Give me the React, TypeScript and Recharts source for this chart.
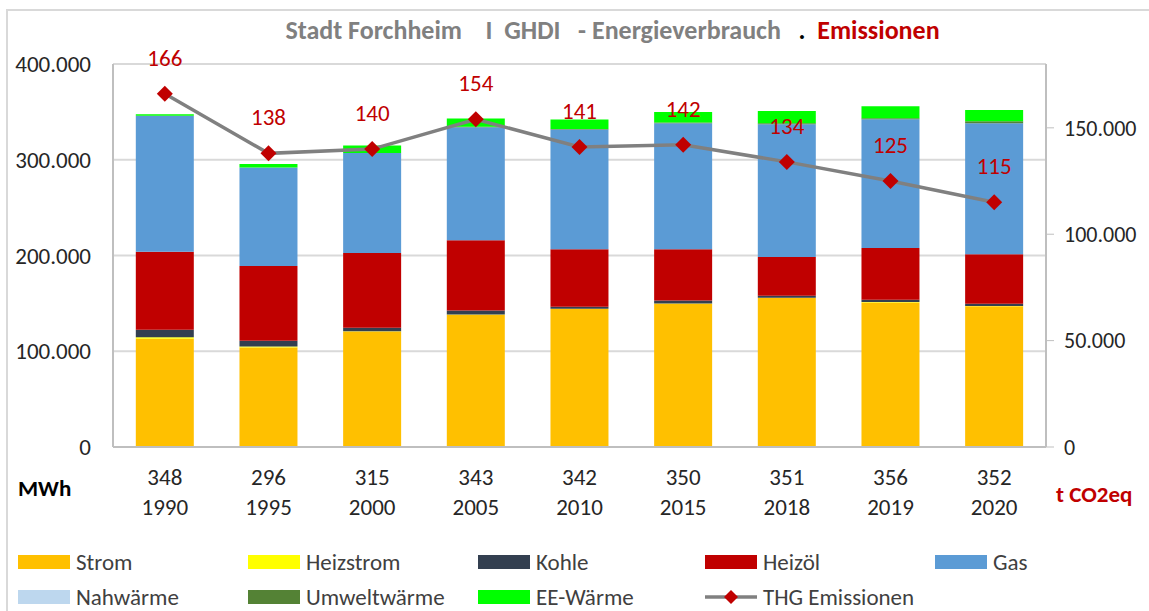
import { Bar, CartesianGrid, ComposedChart, LabelList, Line, XAxis, YAxis } from "recharts";

// Werte in MWh bzw. t CO2eq
const years = ["1990", "1995", "2000", "2005", "2010", "2015", "2018", "2019", "2020"];
const totals = ["348", "296", "315", "343", "342", "350", "351", "356", "352"];

const strom = [113000, 104000, 120500, 138000, 144000, 149500, 155800, 151000, 147000];
const heizstrom = [1500, 1000, 500, 500, 500, 500, 200, 400, 200];
const kohle = [8000, 6000, 3500, 4000, 2000, 3000, 2000, 2500, 2500];
const heizoel = [81500, 78000, 78000, 73500, 60000, 53500, 40500, 54000, 51500];
const gas = [142000, 103000, 104500, 118000, 125000, 131500, 138500, 134500, 137000];
const nahwaerme = [0, 0, 0, 0, 0, 0, 0, 0, 0];
const umweltwaerme = [0, 0, 0, 500, 500, 1000, 1000, 1000, 2000];
const eeWaerme = [1500, 3500, 8000, 8500, 10000, 11000, 13000, 12500, 11800];
const thg = [166000, 138000, 140000, 154000, 141000, 142000, 134000, 125000, 115000];

const leftTicks = [0, 100000, 200000, 300000, 400000];
const rightTicks = [0, 50000, 100000, 150000];

const FONT = "Carlito, Calibri, Lato, sans-serif";

const series = [
  { key: "strom", name: "Strom", color: "#FFC000", values: strom },
  { key: "heizstrom", name: "Heizstrom", color: "#FFFF00", values: heizstrom },
  { key: "kohle", name: "Kohle", color: "#333F50", values: kohle },
  { key: "heizoel", name: "Heizöl", color: "#C00000", values: heizoel },
  { key: "gas", name: "Gas", color: "#5B9BD5", values: gas },
  { key: "nahwaerme", name: "Nahwärme", color: "#BDD7EE", values: nahwaerme },
  { key: "umweltwaerme", name: "Umweltwärme", color: "#548235", values: umweltwaerme },
  { key: "ee", name: "EE-Wärme", color: "#00FF00", values: eeWaerme },
];

const data = years.map((year, i) => {
  const row: Record<string, string | number> = { year, total: totals[i], thg: thg[i] };
  series.forEach((s) => {
    row[s.key] = s.values[i];
  });
  return row;
});

function fmt(v: number): string {
  return String(v).replace(/\B(?=(\d{3})+(?!\d))/g, ".");
}

function YearTick(props: any) {
  const { x, y, index } = props;
  return (
    <g>
      <text x={x} y={y + 30} textAnchor="middle" fontSize={23} fill="#262626" fontFamily={FONT}>
        {totals[index]}
      </text>
      <text x={x} y={y + 60} textAnchor="middle" fontSize={23} fill="#262626" fontFamily={FONT}>
        {years[index]}
      </text>
    </g>
  );
}

function Diamond(props: any) {
  const { cx, cy } = props;
  if (cx == null || cy == null) return null;
  const r = 8;
  return (
    <polygon
      points={`${cx},${cy - r} ${cx + r},${cy} ${cx},${cy + r} ${cx - r},${cy}`}
      fill="#C00000"
    />
  );
}

const legendRows = [
  [
    { name: "Strom", color: "#FFC000", x: 18 },
    { name: "Heizstrom", color: "#FFFF00", x: 248 },
    { name: "Kohle", color: "#333F50", x: 478 },
    { name: "Heizöl", color: "#C00000", x: 705 },
    { name: "Gas", color: "#5B9BD5", x: 935 },
  ],
  [
    { name: "Nahwärme", color: "#BDD7EE", x: 18 },
    { name: "Umweltwärme", color: "#548235", x: 248 },
    { name: "EE-Wärme", color: "#00FF00", x: 478 },
    { name: "THG Emissionen", color: "line", x: 705 },
  ],
];

export default function App() {
  return (
    <div
      style={{
        position: "absolute",
        left: 0,
        top: 0,
        width: 1149,
        height: 611,
        background: "#fff",
        overflow: "hidden",
        fontFamily: FONT,
      }}
    >
      <div
        style={{
          position: "absolute",
          left: 6,
          top: 9,
          width: 1160,
          height: 620,
          borderTop: "2px solid #d9d9d9",
          borderLeft: "2px solid #d9d9d9",
        }}
      />
      <ComposedChart
        width={1149}
        height={611}
        data={data}
        margin={{ top: 64, right: 0, bottom: 94, left: 0 }}
        barCategoryGap="22%"
      >
        <CartesianGrid yAxisId="left" vertical={false} stroke="#d9d9d9" strokeWidth={2} />
        <XAxis
          dataKey="year"
          height={70}
          tickLine={false}
          axisLine={{ stroke: "#bfbfbf", strokeWidth: 2 }}
          tick={<YearTick />}
          interval={0}
        />
        <YAxis
          yAxisId="left"
          width={113}
          domain={[0, 400000]}
          ticks={leftTicks}
          tickFormatter={fmt}
          tickLine={false}
          tickSize={0}
          tickMargin={22}
          axisLine={{ stroke: "#bfbfbf", strokeWidth: 2 }}
          tick={{ fontSize: 23, fill: "#262626", fontFamily: FONT }}
        />
        <YAxis
          yAxisId="right"
          orientation="right"
          width={103}
          domain={[0, 180000]}
          ticks={rightTicks}
          tickFormatter={fmt}
          tickSize={8}
          tickMargin={10}
          tickLine={{ stroke: "#bfbfbf" }}
          axisLine={{ stroke: "#bfbfbf", strokeWidth: 2 }}
          tick={{ fontSize: 22, fill: "#262626", fontFamily: FONT, textAnchor: "start" }}
        />
        {series.map((s) => (
          <Bar
            key={s.key}
            yAxisId="left"
            dataKey={s.key}
            name={s.name}
            stackId="e"
            fill={s.color}
            isAnimationActive={false}
          />
        ))}
        <Line
          yAxisId="right"
          dataKey="thg"
          name="THG Emissionen"
          stroke="#808080"
          strokeWidth={3.5}
          dot={<Diamond />}
          activeDot={false}
          isAnimationActive={false}
        >
          <LabelList
            dataKey="thg"
            position="top"
            offset={28}
            formatter={(v: any) => String(Math.round(Number(v) / 1000))}
            style={{ fontSize: 23, fill: "#C00000", fontFamily: FONT }}
          />
        </Line>
      </ComposedChart>

      <div
        style={{
          position: "absolute",
          left: 0,
          width: 1149,
          top: 14,
          textAlign: "center",
          paddingLeft: 76,
          boxSizing: "border-box",
          fontSize: 26,
          fontWeight: "bold",
          whiteSpace: "pre",
          color: "#808080",
        }}
      >
        {"Stadt Forchheim    I  GHDI   - Energieverbrauch   "}
        <span style={{ color: "#000" }}>.</span>
        {"  "}
        <span style={{ color: "#C00000" }}>Emissionen</span>
      </div>

      <div
        style={{ position: "absolute", left: 18, top: 474, fontSize: 23, fontWeight: "bold", color: "#000" }}
      >
        MWh
      </div>
      <div
        style={{ position: "absolute", left: 1056, top: 480, fontSize: 23, fontWeight: "bold", color: "#C00000" }}
      >
        t CO2eq
      </div>

      {legendRows.map((row, ri) =>
        row.map((item) => (
          <div
            key={item.name}
            style={{
              position: "absolute",
              left: item.x,
              top: 549 + ri * 35,
              height: 26,
              display: "flex",
              alignItems: "center",
              fontSize: 23,
              color: "#404040",
              whiteSpace: "nowrap",
            }}
          >
            {item.color === "line" ? (
              <svg width={52} height={16} style={{ marginRight: 6 }}>
                <line x1={0} y1={8} x2={52} y2={8} stroke="#808080" strokeWidth={3.5} />
                <polygon points="26,1 33,8 26,15 19,8" fill="#C00000" />
              </svg>
            ) : (
              <div style={{ width: 52, height: 14, background: item.color, marginRight: 6 }} />
            )}
            {item.name}
          </div>
        ))
      )}
    </div>
  );
}
